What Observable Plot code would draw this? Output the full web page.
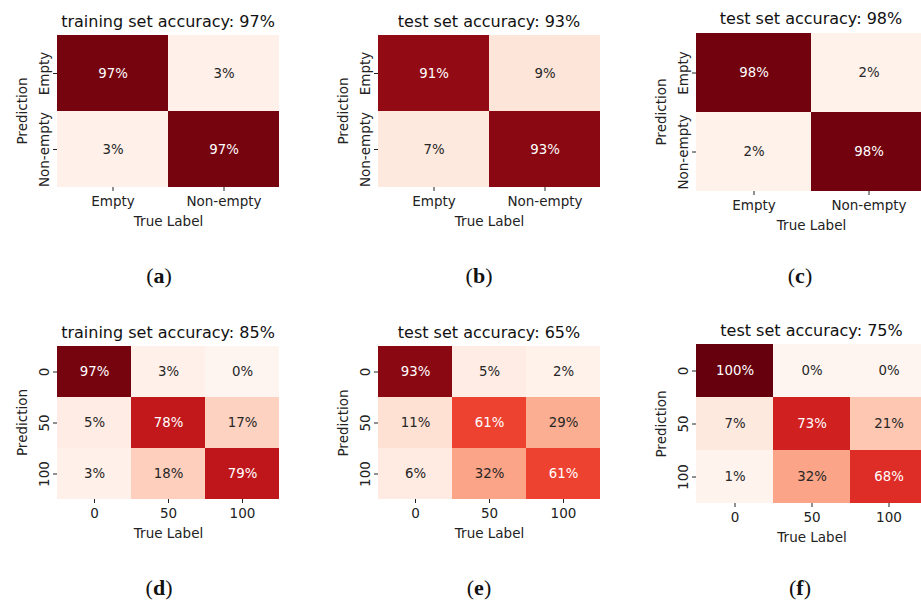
<!DOCTYPE html>
<html>
<head>
<meta charset="utf-8">
<script src="https://cdn.jsdelivr.net/npm/d3@7"></script>
<script src="https://cdn.jsdelivr.net/npm/@observablehq/plot@0.6"></script>
<style>
  html, body { margin: 0; padding: 0; background: #fff; }
  #page { position: relative; width: 921px; height: 603px; overflow: hidden; background: #fff; }
  .panel { position: absolute; }
  .panel svg { max-width: none !important; display: block; }
  .title { position: absolute; font-family: "DejaVu Sans", sans-serif; font-size: 16px; line-height: 16px; color: #111; white-space: nowrap; transform: translateX(-50%); }
  .caption { position: absolute; font-family: "Liberation Serif", "DejaVu Serif", serif; font-size: 22px; line-height: 22px; color: #111; transform: translateX(-50%); white-space: nowrap; }
  .caption b { font-weight: bold; }
</style>
</head>
<body>
<div id="page"></div>
<script>
// Class labels for the two tasks
const binaryLabels = ["Empty", "Non-empty"];
const levelLabels = ["0", "50", "100"];

// Row-normalised confusion matrices (%), rows = prediction, columns = true label
const trainBinary = [[97, 3], [3, 97]];
const testBinaryB = [[91, 9], [7, 93]];
const testBinaryC = [[98, 2], [2, 98]];
const trainLevel = [[97, 3, 0], [5, 78, 17], [3, 18, 79]];
const testLevelE = [[93, 5, 2], [11, 61, 29], [6, 32, 61]];
const testLevelF = [[100, 0, 0], [7, 73, 21], [1, 32, 68]];

// Panel titles and sub-figure letters
const titles = [
  "training set accuracy: 97%",
  "test set accuracy: 93%",
  "test set accuracy: 98%",
  "training set accuracy: 85%",
  "test set accuracy: 65%",
  "test set accuracy: 75%"
];
const letters = ["a", "b", "c", "d", "e", "f"];

const page = document.getElementById("page");

// Layout of each heatmap frame on the page: [left, right, top, bottom]
const panels = [
  {labels: binaryLabels, matrix: trainBinary, frame: [57, 279, 34, 187], titleTop: 13.5, cap: [159, 265]},
  {labels: binaryLabels, matrix: testBinaryB, frame: [378, 600, 34, 187], titleTop: 13.5, cap: [479, 265]},
  {labels: binaryLabels, matrix: testBinaryC, frame: [696, 926, 32, 191], titleTop: 10.5, cap: [800, 265]},
  {labels: levelLabels, matrix: trainLevel, frame: [57, 279, 345, 499], titleTop: 324.5, cap: [159, 577]},
  {labels: levelLabels, matrix: testLevelE, frame: [378, 600, 346, 499], titleTop: 324.5, cap: [479, 577]},
  {labels: levelLabels, matrix: testLevelF, frame: [696, 927, 344, 503], titleTop: 322.5, cap: [800, 577]}
];

const ML = 57, MR = 10, MT = 2, MB = 46;

panels.forEach((p, i) => {
  const [x0, x1, y0, y1] = p.frame;
  const cells = [];
  p.matrix.forEach((row, r) => row.forEach((v, c) => {
    cells.push({pred: p.labels[r], truth: p.labels[c], value: v});
  }));

  const w = ML + (x1 - x0) + MR;
  const h = MT + (y1 - y0) + MB;
  const chart = Plot.plot({
    width: w,
    height: h,
    marginLeft: ML, marginRight: MR, marginTop: MT, marginBottom: MB,
    style: {fontFamily: "DejaVu Sans, sans-serif", fontSize: "13.5px", color: "#222", background: "transparent"},
    x: {domain: p.labels, padding: 0, axis: null},
    y: {domain: p.labels, padding: 0, axis: null},
    color: {type: "linear", scheme: "reds", domain: [0, 100]},
    marks: [
      Plot.cell(cells, {x: "truth", y: "pred", fill: "value"}),
      Plot.text(cells, {
        x: "truth", y: "pred",
        text: d => `${d.value}%`,
        fill: d => d.value > 50 ? "#fff" : "#262626",
        fontSize: 13.3
      }),
      Plot.axisX({anchor: "bottom", tickSize: 4, tickPadding: 5, label: "True Label", labelAnchor: "center", labelOffset: 38}),
      Plot.axisY({anchor: "left", tickSize: 4, tickPadding: 5, tickRotate: -90, label: "Prediction", labelAnchor: "center", labelOffset: 40})
    ]
  });

  const holder = document.createElement("div");
  holder.className = "panel";
  holder.style.left = (x0 - ML) + "px";
  holder.style.top = (y0 - MT) + "px";
  holder.style.width = w + "px";
  holder.style.height = h + "px";
  holder.appendChild(chart);
  page.appendChild(holder);

  const t = document.createElement("div");
  t.className = "title";
  t.textContent = titles[i];
  t.style.left = ((x0 + x1) / 2) + "px";
  t.style.top = p.titleTop + "px";
  page.appendChild(t);

  const c = document.createElement("div");
  c.className = "caption";
  c.innerHTML = `(<b>${letters[i]}</b>)`;
  c.style.left = p.cap[0] + "px";
  c.style.top = p.cap[1] + "px";
  page.appendChild(c);
});
</script>
</body>
</html>
